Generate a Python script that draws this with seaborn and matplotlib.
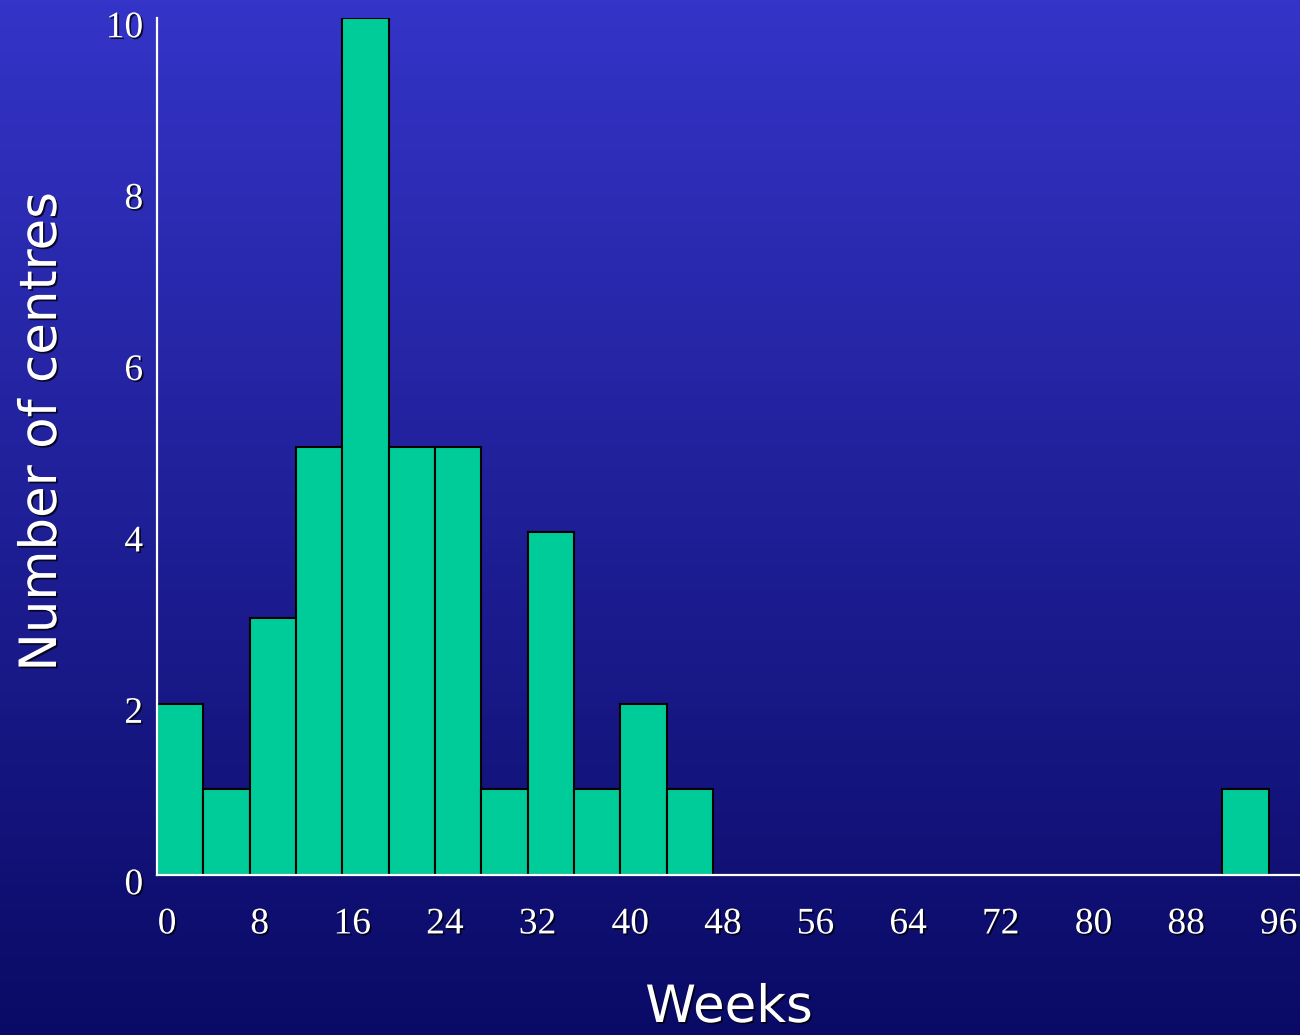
import numpy as np
import pandas as pd
import matplotlib
matplotlib.use("Agg")
import matplotlib.pyplot as plt
import matplotlib.patheffects as pe
from matplotlib.transforms import ScaledTranslation
import seaborn as sns

# Weeks to complete, grouped in 4-week bins, and number of centres per bin
bin_edges = list(range(0, 100, 4))
centres_per_bin = [2, 1, 3, 5, 10, 5, 5, 1, 4, 1, 2, 1,
                   0, 0, 0, 0, 0, 0, 0, 0, 0, 0, 0, 1]
x_ticks = list(range(0, 97, 8))
y_ticks = [0, 2, 4, 6, 8, 10]

df = pd.DataFrame({
    "week": [e + 2 for e in bin_edges[:-1]],
    "centres": centres_per_bin,
})

sns.set_style("white")
plt.rcParams["font.family"] = ["Liberation Serif", "DejaVu Serif"]

fig = plt.figure(figsize=(13, 10.35), dpi=100)

# vertical blue gradient behind everything
bg = fig.add_axes([0, 0, 1, 1], zorder=-10)
top = np.array([52, 52, 200]) / 255
bottom = np.array([10, 10, 102]) / 255
t = np.linspace(0, 1, 256)[:, None]
grad = top[None, :] * (1 - t) + bottom[None, :] * t
bg.imshow(grad[:, None, :], aspect="auto", extent=[0, 1, 0, 1])
bg.axis("off")

W, H = 1300, 1035
ax = fig.add_axes([157 / W, 1 - 875 / H, (W - 157) / W, (875 - 18) / H])
ax.patch.set_alpha(0)

sns.histplot(data=df, x="week", weights="centres", bins=bin_edges,
             color="#00cc99", alpha=1, edgecolor="black", linewidth=1.5,
             ax=ax)

ax.set_xlim(0, (W - 157) / 11.58)
ax.set_ylim(0, 10)
ax.set_xticks(x_ticks)
ax.set_yticks(y_ticks)

for side in ("top", "right"):
    ax.spines[side].set_visible(False)
for side in ("left", "bottom"):
    ax.spines[side].set_color("white")
    ax.spines[side].set_linewidth(1.6)
    ax.spines[side].set_zorder(5)

shadow = [pe.SimplePatchShadow(offset=(1.2, -1.2), shadow_rgbFace="black", alpha=0.8),
          pe.Normal()]

ax.tick_params(axis="both", length=0, labelsize=27, colors="white")
ax.tick_params(axis="x", pad=23)
ax.tick_params(axis="y", pad=10)
dx = ScaledTranslation(0.10, 0, fig.dpi_scale_trans)
dy = ScaledTranslation(0, -0.06, fig.dpi_scale_trans)
for lab in ax.get_xticklabels():
    lab.set_transform(lab.get_transform() + dx)
    lab.set_path_effects(shadow)
for lab in ax.get_yticklabels():
    lab.set_transform(lab.get_transform() + dy)
    lab.set_path_effects(shadow)

ax.set_xlabel("")
ax.set_ylabel("")
fig.text(42 / W, 1 - 432 / H, "Number of centres", rotation=90,
         ha="center", va="center", color="white", fontsize=37,
         family=["DejaVu Sans"], path_effects=shadow)
fig.text(729 / W, 1 - 1033 / H, "Weeks", ha="center", va="bottom",
         color="white", fontsize=37, family=["DejaVu Sans"],
         path_effects=shadow)

fig.savefig("out.png", dpi=100)
